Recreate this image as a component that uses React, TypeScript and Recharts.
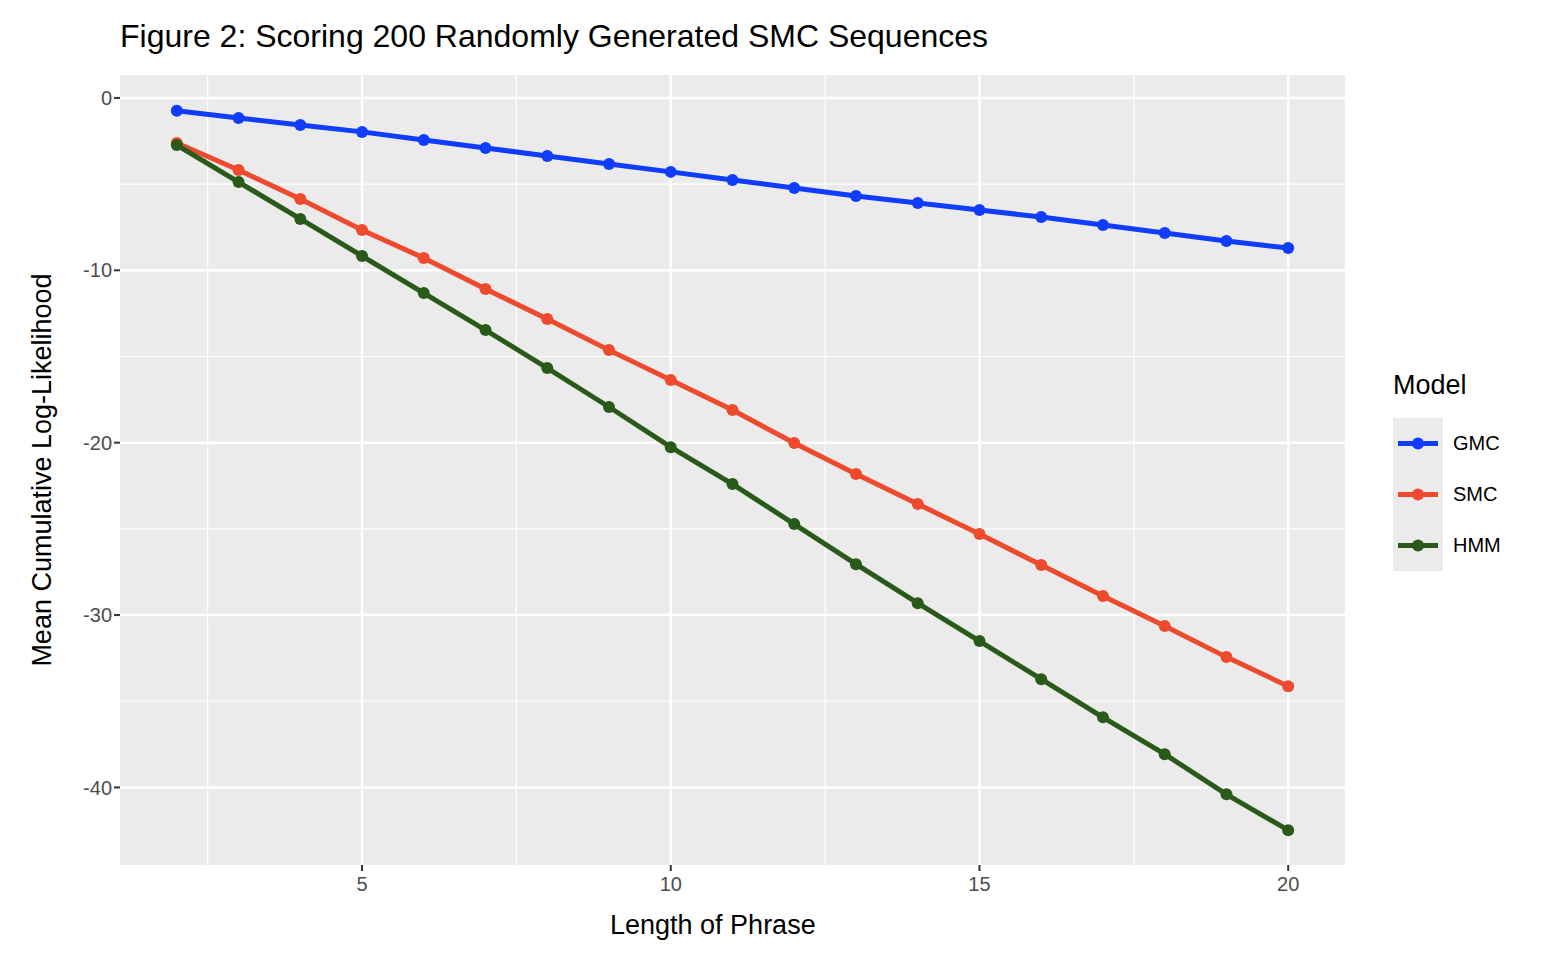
import React from 'react';
import { LineChart, Line, XAxis, YAxis, CartesianGrid } from 'recharts';

const lengths = [2, 3, 4, 5, 6, 7, 8, 9, 10, 11, 12, 13, 14, 15, 16, 17, 18, 19, 20];
const gmc = [-0.75, -1.16, -1.57, -1.97, -2.44, -2.9, -3.37, -3.83, -4.29, -4.76, -5.22, -5.69, -6.09, -6.5, -6.91, -7.37, -7.84, -8.3, -8.71];
const smc = [-2.61, -4.18, -5.86, -7.66, -9.29, -11.08, -12.83, -14.63, -16.37, -18.11, -20.02, -21.82, -23.56, -25.3, -27.1, -28.9, -30.64, -32.44, -34.13];
const hmm = [-2.73, -4.88, -7.02, -9.17, -11.32, -13.47, -15.67, -17.93, -20.26, -22.4, -24.72, -27.05, -29.31, -31.51, -33.72, -35.93, -38.07, -40.4, -42.48];
const xTicks = [5, 10, 15, 20];
const yTicks = [0, -10, -20, -30, -40];
const xMinor = [2.5, 7.5, 12.5, 17.5];
const yMinor = [-5, -15, -25, -35];

const series = [
  { key: 'GMC', color: '#0F3DFB' },
  { key: 'SMC', color: '#EE4A2E' },
  { key: 'HMM', color: '#2A5A19' },
];

const data = lengths.map((x, i) => ({ x, GMC: gmc[i], SMC: smc[i], HMM: hmm[i] }));

const font = '"Liberation Sans", Arial, sans-serif';
const tick = { fontSize: 20, fill: '#4D4D4D', fontFamily: font };

export default function App() {
  return (
    <div style={{ position: 'absolute', left: 0, top: 0, width: 1550, height: 958, background: '#fff', fontFamily: font }}>
      <div style={{ position: 'absolute', left: 120, top: 18, fontSize: 32, color: '#000' }}>
        Figure 2: Scoring 200 Randomly Generated SMC Sequences
      </div>
      <LineChart width={1550} height={958} data={data} margin={{ top: 75, right: 205, left: 0, bottom: 0 }}>
        <CartesianGrid fill="#EBEBEB" stroke="#fff" strokeWidth={1.2} horizontalValues={yMinor} verticalValues={xMinor} />
        <CartesianGrid fill="none" stroke="#fff" strokeWidth={2.4} horizontalValues={yTicks} verticalValues={xTicks} />
        <XAxis
          dataKey="x"
          type="number"
          domain={[1.08, 20.92]}
          ticks={xTicks}
          height={93}
          tick={tick}
          tickSize={6}
          tickMargin={6}
          tickLine={{ stroke: '#333', strokeWidth: 2 }}
          axisLine={false}
          allowDataOverflow
        />
        <YAxis
          type="number"
          domain={[-44.5, 1.33]}
          ticks={yTicks}
          width={120}
          tick={tick}
          tickSize={6}
          tickLine={{ stroke: '#333', strokeWidth: 2 }}
          axisLine={false}
          allowDataOverflow
        />
        {series.map((s) => (
          <Line
            key={s.key}
            dataKey={s.key}
            stroke={s.color}
            strokeWidth={5}
            dot={{ r: 6, fill: s.color, stroke: s.color, strokeWidth: 0 }}
            isAnimationActive={false}
          />
        ))}
      </LineChart>
      <div style={{ position: 'absolute', left: 610, top: 910, fontSize: 27 }}>Length of Phrase</div>
      <div
        style={{
          position: 'absolute', left: 42, top: 470, fontSize: 27, whiteSpace: 'nowrap',
          transform: 'translate(-50%, -50%) rotate(-90deg)',
        }}
      >
        Mean Cumulative Log-Likelihood
      </div>
      <div style={{ position: 'absolute', left: 1393, top: 370, fontSize: 27 }}>Model</div>
      {series.map((s, i) => (
        <div key={s.key} style={{ position: 'absolute', left: 1393, top: 418 + i * 51, height: 51, display: 'flex', alignItems: 'center' }}>
          <svg width={50} height={51} style={{ background: '#EBEBEB' }}>
            <line x1={5} x2={45} y1={25.5} y2={25.5} stroke={s.color} strokeWidth={5} />
            <circle cx={25} cy={25.5} r={6} fill={s.color} />
          </svg>
          <span style={{ marginLeft: 10, fontSize: 20 }}>{s.key}</span>
        </div>
      ))}
    </div>
  );
}
